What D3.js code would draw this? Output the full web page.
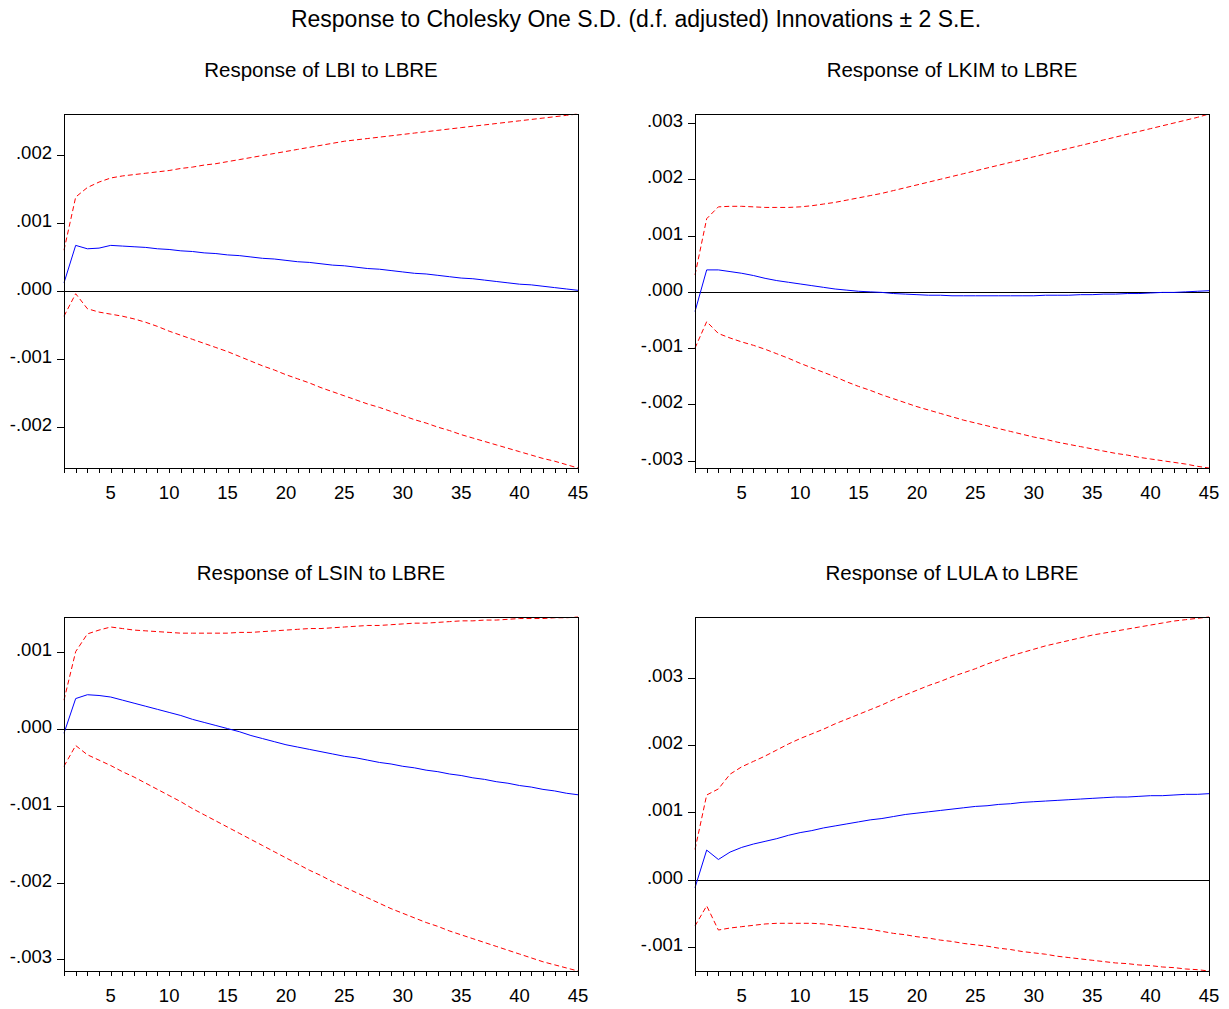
<!DOCTYPE html>
<html lang="en">
<head>
<meta charset="utf-8">
<title>Impulse responses</title>
<script src="https://d3js.org/d3.v7.min.js"></script>
<style>
  body { margin: 0; background: #fff; }
  svg text { font-family: "Liberation Sans", Arial, sans-serif; fill: #000; }
</style>
</head>
<body>
<div id="chart"></div>
<script>
// periods 1..45
const periods = d3.range(1, 46);

// Response of LBI to LBRE
const lbiResp = [0.00012,0.00067,0.00062,0.00063,0.00067,0.00066,0.00065,0.00064,0.00062,0.00061,0.00059,0.00058,0.00056,0.00055,0.00053,0.00052,0.00050,0.00048,0.00047,0.00045,0.00043,0.00042,0.00040,0.00038,0.00037,0.00035,0.00033,0.00032,0.00030,0.00028,0.00026,0.00025,0.00023,0.00021,0.00019,0.00018,0.00016,0.00014,0.00012,0.00010,0.00009,0.00007,0.00005,0.00003,0.00001];
const lbiUp = [0.0006,0.00138,0.00152,0.0016,0.00166,0.00169,0.00171,0.00173,0.00175,0.00177,0.0018,0.00182,0.00185,0.00187,0.0019,0.00193,0.00196,0.00199,0.00202,0.00205,0.00208,0.00211,0.00214,0.00217,0.0022,0.00222,0.00224,0.00226,0.00228,0.0023,0.00232,0.00234,0.00236,0.00238,0.0024,0.00242,0.00244,0.00246,0.00248,0.0025,0.00252,0.00254,0.00256,0.00258,0.0026];
const lbiLo = [-0.00037,-0.00004,-0.00026,-0.00031,-0.00034,-0.00037,-0.00041,-0.00046,-0.00052,-0.00059,-0.00065,-0.00071,-0.00077,-0.00083,-0.00089,-0.00096,-0.00103,-0.0011,-0.00116,-0.00123,-0.00129,-0.00135,-0.00142,-0.00148,-0.00154,-0.0016,-0.00166,-0.00171,-0.00177,-0.00183,-0.00189,-0.00194,-0.002,-0.00205,-0.00211,-0.00216,-0.00221,-0.00226,-0.00231,-0.00236,-0.00241,-0.00246,-0.0025,-0.00255,-0.0026];

// Response of LKIM to LBRE
const lkimResp = [-0.00035,0.00039,0.00039,0.00036,0.00033,0.00029,0.00024,0.0002,0.00017,0.00014,0.00011,0.00008,0.00005,0.00003,0.00001,0.0,-0.00001,-0.00003,-0.00004,-0.00005,-0.00006,-0.00006,-0.00007,-0.00007,-0.00007,-0.00007,-0.00007,-0.00007,-0.00007,-0.00007,-0.00006,-0.00006,-0.00006,-0.00005,-0.00005,-0.00004,-0.00004,-0.00003,-0.00003,-0.00002,-0.00001,-0.00001,0.0,0.00001,0.00002];
const lkimUp = [0.0003,0.0013,0.00151,0.00152,0.00152,0.00151,0.0015,0.0015,0.0015,0.00151,0.00153,0.00156,0.00159,0.00163,0.00167,0.00171,0.00175,0.0018,0.00185,0.0019,0.00195,0.002,0.00205,0.0021,0.00215,0.0022,0.00225,0.0023,0.00235,0.0024,0.00245,0.0025,0.00255,0.0026,0.00265,0.0027,0.00275,0.0028,0.00285,0.0029,0.00295,0.003,0.00305,0.0031,0.00316];
const lkimLo = [-0.001,-0.00053,-0.00074,-0.00082,-0.00089,-0.00095,-0.00102,-0.0011,-0.00118,-0.00127,-0.00135,-0.00143,-0.00151,-0.0016,-0.00168,-0.00175,-0.00183,-0.0019,-0.00197,-0.00204,-0.0021,-0.00216,-0.00222,-0.00228,-0.00233,-0.00238,-0.00243,-0.00248,-0.00253,-0.00258,-0.00262,-0.00267,-0.00271,-0.00275,-0.00279,-0.00283,-0.00287,-0.0029,-0.00294,-0.00297,-0.003,-0.00303,-0.00306,-0.0031,-0.00313];

// Response of LSIN to LBRE
const lsinResp = [-0.00006,0.00039,0.00044,0.00043,0.00041,0.00037,0.00033,0.00029,0.00025,0.00021,0.00017,0.00012,0.00008,0.00004,0.0,-0.00004,-0.00009,-0.00013,-0.00017,-0.00021,-0.00024,-0.00027,-0.0003,-0.00033,-0.00036,-0.00038,-0.00041,-0.00044,-0.00046,-0.00049,-0.00051,-0.00054,-0.00056,-0.00059,-0.00061,-0.00064,-0.00066,-0.00069,-0.00071,-0.00074,-0.00076,-0.00079,-0.00081,-0.00084,-0.00086];
const lsinUp = [0.00037,0.001,0.00123,0.00128,0.00132,0.0013,0.00128,0.00127,0.00126,0.00125,0.00124,0.00124,0.00124,0.00124,0.00124,0.00125,0.00125,0.00126,0.00127,0.00128,0.00129,0.0013,0.0013,0.00131,0.00132,0.00133,0.00134,0.00134,0.00135,0.00136,0.00137,0.00137,0.00138,0.00139,0.0014,0.0014,0.00141,0.00141,0.00142,0.00143,0.00143,0.00143,0.00144,0.00144,0.00145];
const lsinLo = [-0.00049,-0.00022,-0.00034,-0.00041,-0.00048,-0.00056,-0.00063,-0.00071,-0.00079,-0.00087,-0.00095,-0.00104,-0.00112,-0.0012,-0.00128,-0.00136,-0.00144,-0.00152,-0.0016,-0.00168,-0.00176,-0.00184,-0.00191,-0.00199,-0.00206,-0.00213,-0.0022,-0.00227,-0.00234,-0.0024,-0.00246,-0.00252,-0.00257,-0.00263,-0.00268,-0.00273,-0.00278,-0.00283,-0.00288,-0.00293,-0.00298,-0.00303,-0.00307,-0.00311,-0.00315];

// Response of LULA to LBRE
const lulaResp = [-0.00012,0.00044,0.0003,0.00041,0.00048,0.00053,0.00057,0.00061,0.00066,0.0007,0.00073,0.00077,0.0008,0.00083,0.00086,0.00089,0.00091,0.00094,0.00097,0.00099,0.00101,0.00103,0.00105,0.00107,0.00109,0.0011,0.00112,0.00113,0.00115,0.00116,0.00117,0.00118,0.00119,0.0012,0.00121,0.00122,0.00123,0.00123,0.00124,0.00125,0.00125,0.00126,0.00127,0.00127,0.00128];
const lulaUp = [0.00045,0.00126,0.00135,0.00157,0.00168,0.00176,0.00184,0.00193,0.00202,0.0021,0.00217,0.00224,0.00232,0.00239,0.00246,0.00253,0.0026,0.00268,0.00275,0.00282,0.00289,0.00295,0.00302,0.00308,0.00314,0.00321,0.00327,0.00333,0.00338,0.00343,0.00348,0.00352,0.00356,0.0036,0.00364,0.00367,0.0037,0.00373,0.00376,0.00379,0.00382,0.00385,0.00387,0.00389,0.00391];
const lulaLo = [-0.00069,-0.00039,-0.00075,-0.00072,-0.0007,-0.00068,-0.00066,-0.00065,-0.00065,-0.00065,-0.00065,-0.00066,-0.00068,-0.0007,-0.00072,-0.00074,-0.00077,-0.0008,-0.00082,-0.00085,-0.00087,-0.0009,-0.00092,-0.00095,-0.00097,-0.00099,-0.00102,-0.00104,-0.00107,-0.00109,-0.00111,-0.00114,-0.00116,-0.00118,-0.0012,-0.00122,-0.00124,-0.00125,-0.00127,-0.00128,-0.0013,-0.00131,-0.00133,-0.00134,-0.00136];

const xTickLabels = [5, 10, 15, 20, 25, 30, 35, 40, 45];
const mainTitle = "Response to Cholesky One S.D. (d.f. adjusted) Innovations \u00b1 2 S.E.";

const panels = [
  { title: "Response of LBI to LBRE",  resp: lbiResp,  up: lbiUp,  lo: lbiLo,  x0: 64,  y0: 114 },
  { title: "Response of LKIM to LBRE", resp: lkimResp, up: lkimUp, lo: lkimLo, x0: 695, y0: 114 },
  { title: "Response of LSIN to LBRE", resp: lsinResp, up: lsinUp, lo: lsinLo, x0: 64,  y0: 617 },
  { title: "Response of LULA to LBRE", resp: lulaResp, up: lulaUp, lo: lulaLo, x0: 695, y0: 617 }
];

const W = 1229, H = 1009;
const pw = 514, ph = 354;

const svg = d3.select("#chart").append("svg")
  .attr("width", W)
  .attr("height", H);

svg.append("text")
  .attr("x", 636)
  .attr("y", 27)
  .attr("text-anchor", "middle")
  .style("font-size", "23px")
  .text(mainTitle);

// EViews style: ".002", "-.001" (plain hyphen, no leading zero)
const fmt = v => d3.format(".3f")(v).replace("\u2212", "-").replace("0.", ".");

panels.forEach(p => {
  const g = svg.append("g").attr("transform", `translate(${p.x0},${p.y0})`);

  const x = d3.scaleLinear().domain([1, 45]).range([0, pw]);
  const ext = d3.extent(p.up.concat(p.lo, p.resp));
  const y = d3.scaleLinear().domain(ext).range([ph, 0]);

  // subtitle
  g.append("text")
    .attr("x", pw / 2)
    .attr("y", -37)
    .attr("text-anchor", "middle")
    .style("font-size", "20.5px")
    .text(p.title);

  // y axis ticks at every .001
  const yt = d3.range(Math.ceil(ext[0] / 0.001 - 1e-9), Math.floor(ext[1] / 0.001 + 1e-9) + 1).map(k => k * 0.001);
  yt.forEach(v => {
    const yy = Math.round(y(v)) + 0.5;
    g.append("line")
      .attr("x1", -7).attr("x2", 0)
      .attr("y1", yy).attr("y2", yy)
      .attr("stroke", "#000");
    g.append("text")
      .attr("x", -12)
      .attr("y", yy + 3)
      .attr("text-anchor", "end")
      .style("font-size", "18.5px")
      .text(fmt(Math.abs(v) < 1e-9 ? 0 : v));
  });

  // x axis minor ticks every period, labels every 5
  periods.forEach(t => {
    const xx = Math.round(x(t)) + 0.5;
    g.append("line")
      .attr("x1", xx).attr("x2", xx)
      .attr("y1", ph).attr("y2", ph + 5)
      .attr("stroke", "#000");
  });
  xTickLabels.forEach(t => {
    g.append("text")
      .attr("x", x(t))
      .attr("y", ph + 31)
      .attr("text-anchor", "middle")
      .style("font-size", "18.5px")
      .text(t);
  });

  // zero line
  const z = Math.round(y(0)) + 0.5;
  g.append("line")
    .attr("x1", 0).attr("x2", pw)
    .attr("y1", z).attr("y2", z)
    .attr("stroke", "#000");

  const line = d3.line()
    .x((d, i) => x(periods[i]))
    .y(d => y(d));

  g.append("path").datum(p.up)
    .attr("d", line)
    .attr("fill", "none")
    .attr("stroke", "#ff0000")
    .attr("stroke-width", 1)
    .attr("stroke-dasharray", "5,3");

  g.append("path").datum(p.lo)
    .attr("d", line)
    .attr("fill", "none")
    .attr("stroke", "#ff0000")
    .attr("stroke-width", 1)
    .attr("stroke-dasharray", "5,3");

  g.append("path").datum(p.resp)
    .attr("d", line)
    .attr("fill", "none")
    .attr("stroke", "#0000ff")
    .attr("stroke-width", 1);

  // frame
  g.append("rect")
    .attr("x", 0.5).attr("y", 0.5)
    .attr("width", pw).attr("height", ph)
    .attr("fill", "none")
    .attr("stroke", "#000");
});
</script>
</body>
</html>
